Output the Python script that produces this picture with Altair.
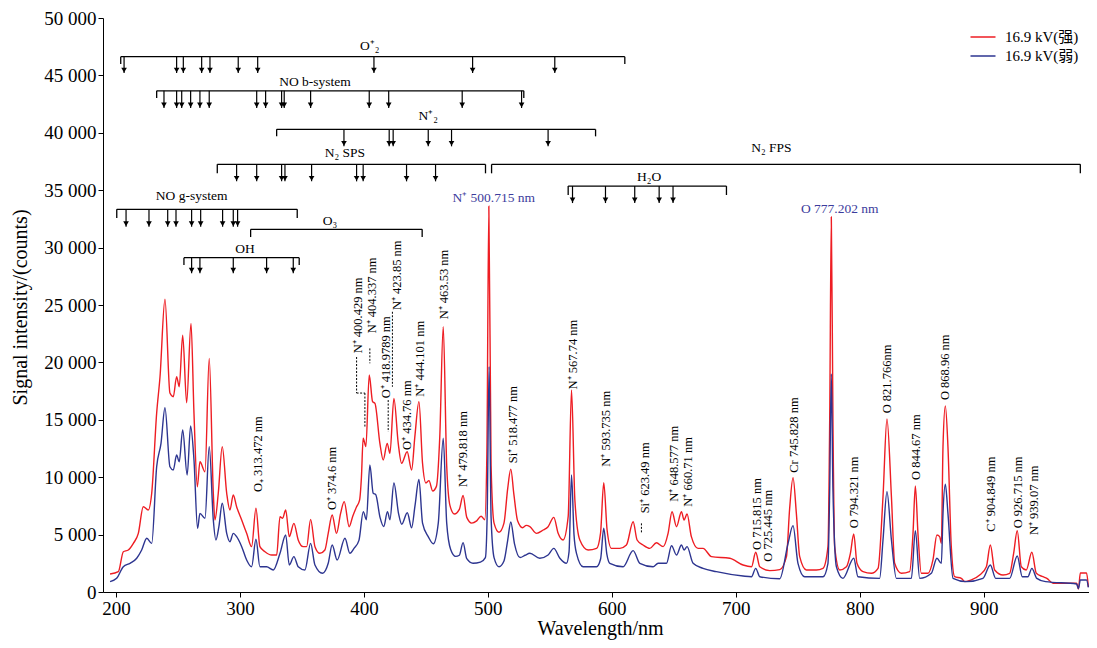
import altair as alt
import pandas as pd

FONT = "Liberation Serif, Noto Sans CJK SC"

# ---------------- spectrum data ----------------
red_nm = [195.2, 201.9, 205.9, 209.9, 214, 218, 222, 226, 228.8, 232.8, 235.5, 239.5, 243.5, 246.2,
          248.9, 251, 253.8, 257, 260.5, 262.9, 265.6, 267.7, 271.8, 275.2, 278.5, 279.8, 282.5, 285.7,
          289.3, 291.9, 294.6, 297.3, 301.4, 305.4, 309.4, 312.9, 316.1, 320.2, 325.6, 329.6, 332.3,
          334.4, 336.9, 339.8, 343.5, 347, 351, 353.8, 357, 360.5, 364.5, 368.5, 371.2, 374.4, 377.9,
          381.2, 384.1, 388.1, 391, 394, 396.5, 398, 399.4, 401.6, 404.3, 407, 408.9, 412.9, 415.6,
          418.8, 421, 424.2, 427.7, 430.4, 434.9, 438.5, 441.1, 444.4, 447.3, 450, 452.5, 455.5, 458.5,
          461.2, 464, 466.8, 469.5, 473, 477, 480, 483, 487, 491, 494.5, 497.5, 499.2, 500.8, 502.6,
          505, 509, 513, 516, 518.5, 521, 524, 528, 531, 533.9, 539.3, 544.6, 548.6, 553.2, 556.7,
          560.7, 564.8, 567.5, 570.2, 574.2, 580.9, 587.7, 590.9, 593.5, 596.2, 599.7, 606.5, 611.8,
          617.2, 620.4, 625.2, 630.6, 636, 641.4, 645.4, 648.6, 652.2, 656.2, 658.3, 660.7, 664.2,
          669.6, 673.6, 680.4, 695.2, 705.9, 712.7, 716.1, 719.4, 727.4, 735.5, 740.9, 743.5, 746.2,
          748.9, 751.6, 757, 765, 770.4, 774.4, 775.8, 777.1, 778.4, 779.8, 783.9, 789.3, 792.5, 795.2,
          797.8, 802.7, 809.4, 814.8, 818.8, 822, 825.6, 828.2, 833.6, 840.3, 843, 844.9, 847, 849.7,
          855.1, 859.1, 862.3, 864.5, 865.9, 867.2, 869.1, 871.2, 873.9, 876.6, 882, 884.7, 890.1,
          896.8, 902.2, 905.4, 908.9, 915.6, 921, 924.2, 927.1, 930.4, 934.4, 938.9, 942.5, 947.8,
          951, 956, 975, 976.5, 978, 983, 984.5]
red_val = [1570, 1770, 3510, 3660, 4240, 5110, 7430, 7140, 8600, 15590, 18750, 25500, 17330, 17010,
           18750, 17880, 22380, 16490, 23400, 15560, 9170, 11350, 10480, 20350, 8600, 6270, 8600, 12660,
           8600, 7140, 8450, 7430, 6270, 5110, 3950, 7290, 3950, 3510, 3220, 3220, 6560,
           6420, 7140, 4820, 5980, 4530, 3950, 3950, 6330, 3950, 3370, 3660, 5110, 6710, 5110,
           6850, 7870, 5690, 6600, 7400, 8000, 10000, 13390, 12660, 18900, 16580, 16430, 12950, 11500,
           12950, 12080, 16870, 12950, 11210, 12220, 10630, 13530, 16580, 11210, 9500, 9700, 8800, 9200,
           13500, 23110, 11000, 7500, 6800, 7200, 8400, 6500, 6000, 6200, 6600, 6300, 12000, 33600, 11000,
           6000, 5200, 6000, 9000, 10700, 8500, 6200, 5600, 5800, 5690, 5110, 5400, 5690, 6500, 5110,
           4530, 6560, 17590, 8010, 4530, 3660, 3800, 5110, 9520, 5400, 3800, 3800, 4090,
           6120, 4530, 4090, 3800, 4290, 3950, 5110, 6990, 5690, 6990, 6270, 6790, 4820,
           3800, 3800, 3080, 2940, 2350, 2200, 3460, 2200, 1860, 1950, 3080, 7290, 9960,
           6850, 3080, 1920, 1920, 2060, 3950, 15000, 32660, 15000, 3950, 1920, 2200, 3370, 5050,
           2500, 1770, 1630, 2060, 8300, 15070, 8300, 2500, 1630, 1770, 5110, 9230, 5110, 1630,
           1630, 2790, 4970, 4820, 4240, 12660, 16200, 12660, 3950, 1330, 1190, 900, 1050,
           1480, 2200, 4090, 1920, 1480, 1630, 3370, 5340, 2200, 1920, 3460, 1630, 1330,
           1190, 760, 760, 260, 1650, 1650, 435]

blue_nm = [195.2, 200.5, 205.9, 211.3, 216.7, 220.7, 224.8, 228.8, 232.8, 236.3, 239.5, 243.5, 246.2,
           248.9, 251, 253.8, 257.4, 260.2, 262.9, 265.8, 267.7, 271.8, 275.2, 278.5, 280.6, 283, 285.7,
           289.3, 291.9, 294.6, 297.3, 301.4, 305.4, 309.4, 312.9, 316.1, 321.5, 326.9, 332.3, 336.9,
           339.8, 343.5, 347, 352.4, 357, 360.5, 366.6, 371.2, 374.4, 378.4, 384.7, 388.7, 392, 396,
           399.5, 402, 404.8, 407.5, 409.5, 413, 416, 419, 421, 424.2, 428, 430.5, 435, 438.5, 441.2,
           444.4, 447.3, 452, 456, 460, 464, 466.8, 470, 474, 477, 480, 483, 488, 494, 498, 499.5, 501,
           502.6, 505, 509, 513, 516, 518.5, 521.5, 526, 530, 533.9, 541.9, 548.6, 553.2, 558.1, 563.4,
           565.5, 567.5, 569.5, 571.5, 576.9, 587.7, 591, 593.5, 596, 598.4, 609.1, 617.2, 622.6, 633.3,
           637.4, 644.1, 648.2, 652.2, 656.2, 658.3, 660.7, 665.6, 673.6, 684.4, 705.9, 712.7, 716.1,
           719.4, 735.5, 742.2, 746.2, 750.2, 755.6, 770.4, 774.4, 775.8, 777.1, 778.4, 781.2, 786.5,
           795.2, 798.6, 816.1, 818.8, 822, 825.6, 829.6, 841.7, 844.9, 848.4, 857.8, 862.3, 865.9,
           867.2, 869.1, 871.2, 875.3, 886, 899.4, 905.4, 909.7, 921, 927.1, 931.2, 935.7, 938.9, 942.9,
           950, 975, 976.5, 978, 983, 984.5]
blue_val = [900, 1190, 2200, 2500, 2940, 3660, 4680, 4240, 10910, 12950, 16050, 10910, 10630,
            11930, 11350, 14110, 10190, 14460, 11500, 5550, 6850, 6420, 12660, 6270, 4530, 5690, 7730,
            5110, 4380, 5110, 4820, 3950, 2790, 2200, 4590, 2200, 2200, 1920, 3370, 4970,
            2350, 3080, 2200, 1920, 4240, 2350, 1630, 2500, 4090, 2790, 4680, 3370, 3800, 4500,
            7000, 6300, 11060, 8600, 8500, 6500, 5700, 7000, 6300, 9500, 6800, 5900, 6900, 5600, 7500,
            9800, 6000, 4800, 4200, 6000, 13390, 6000, 3700, 3100, 3200, 4300, 2900, 2500, 2600, 3000, 7000, 19620,
            6500, 3000, 2200, 2700, 4500, 6100, 4200, 3000, 3200, 3370, 2940, 3220, 3800, 2940, 2500,
            3500, 10190, 5000, 3370, 2200, 2200, 2900, 5550, 3300, 2500, 2200, 3600, 2500, 2200,
            2500, 2500, 4030, 3220, 4090, 3660, 3950, 2500, 2060, 1770, 1390, 1330, 2060,
            1330, 1150, 4240, 5780, 2500, 1330, 1330, 2500, 9000, 18990, 9000, 2200, 1190,
            2940, 1330, 1190, 4530, 8740, 4530, 1190, 1190, 5340, 1190, 1630, 2940, 2500,
            6850, 9380, 6850, 1190, 900, 1190, 2350, 1190, 1190, 3140, 1330, 1330, 2060, 1190,
            900, 700, 300, 1050, 1050, 400]

series_names = ["16.9 kV(强)", "16.9 kV(弱)"]
series_colors = ["#EE1D23", "#2D3590"]

x_ticks = [200, 300, 400, 500, 600, 700, 800, 900]
y_ticks = [0, 5000, 10000, 15000, 20000, 25000, 30000, 35000, 40000, 45000, 50000]
X_DOMAIN = [189.5, 985]
Y_DOMAIN = [0, 50000]

# ---------------- band-system brackets ----------------
br_label = ["O⁺₂", "NO b-system", "N⁺₂", "N₂ SPS", "N₂  FPS", "H₂O", "NO g-system", "O₃", "OH"]
br_start = [203.8, 232.8, 329.6, 281.7, 503.0, 564.8, 200.6, 308.6, 254.8]
br_end = [610.5, 529.0, 586.9, 498.1, 978.0, 692.5, 346.2, 447.0, 347.8]
br_line = [46630, 43660, 40300, 37250, 37250, 35360, 33330, 31590, 29120]
br_tick = [45990, 43030, 39690, 36470, 36470, 34580, 32580, 30920, 28480]
br_tip = [45200, 42160, 38820, 35770, 0, 33880, 31820, 0, 27760]
br_label_x = [404.6, 360.5, 451.9, 384.7, 728.8, 630.1, 261.0, 372.6, 304.0]
br_label_y = [47550, 44420, 41460, 38260, 38650, 36170, 34520, 32340, 29850]
br_arrows = [
    [206.5, 248.9, 254.3, 269.1, 275.8, 298.6, 314.3, 408.1, 487.7, 554.0],
    [238.7, 248.9, 253.0, 260.2, 267.7, 275.2, 313.5, 320.7, 333.6, 335.7, 357.0, 404.3, 420.0, 479.3, 527.2],
    [383.9, 420.4, 423.6, 451.9, 470.7, 548.6],
    [297.3, 313.5, 333.6, 336.3, 357.8, 394.1, 399.4, 434.4, 457.8],
    [],
    [568.3, 594.9, 618.5, 638.2, 649.4],
    [208.1, 226.6, 241.7, 248.4, 261.0, 268.3, 286.0, 294.6, 298.1],
    [],
    [261.0, 267.7, 294.6, 321.5, 343.0],
]

# ---------------- peak labels ----------------
rot_text = ["O₊ 313.472 nm", "O⁺ 374.6 nm", "N⁺ 400.429 nm", "N⁺ 404.337 nm", "O⁺ 418.9789 nm",
            "N⁺ 423.85 nm", "O⁺ 434.76 nm", "N⁺ 444.101 nm", "N⁺ 463.53 nm", "N⁺ 479.818 nm",
            "Si⁺ 518.477 nm", "N⁺ 567.74 nm", "N⁺ 593.735 nm", "Si⁺ 623.49 nm", "N⁺ 648.577 nm",
            "N⁺ 660.71 nm", "O 715.815 nm", "O 725.445 nm", "Cr 745.828 nm", "O 794.321 nm",
            "O 821.766nm", "O 844.67 nm", "O 868.96 nm", "C⁺ 904.849 nm", "O 926.715 nm", "N⁺ 939.07 nm"]
rot_nm = [314.5, 374.4, 395.4, 406.5, 417.7, 426.4, 434.9, 445.2, 464.5, 480.0, 520.4, 568.8, 595.2,
          626.6, 650.0, 661.5, 717.5, 726.0, 746.8, 795.2, 822.0, 845.2, 869.1, 906.2, 927.7, 940.3]
rot_val = [8700, 7140, 20790, 22530, 16870, 24560, 12370, 17010, 23750, 9150, 11210, 17650, 10910,
           6850, 7870, 7430, 3660, 2640, 10390, 5550, 15560, 9760, 16720, 5250, 5550, 4960]

hl_text = ["N⁺ 500.715 nm", "O 777.202 nm"]
hl_nm = [504.8, 783.9]
hl_val = [34320, 33360]

# dashed leader lines (x, y) -> (x2, y2)
ld_x = [394.1, 394.1, 400.8, 404.8, 419.6, 423.0, 623.9]
ld_y = [20470, 17330, 17330, 21220, 16720, 24410, 5980]
ld_x2 = [394.1, 400.8, 400.8, 404.8, 419.6, 423.0, 623.9]
ld_y2 = [17330, 17330, 14370, 19920, 13960, 17880, 5110]

# ---------------- tables ----------------
spec_df = pd.DataFrame({
    "nm": red_nm + blue_nm,
    "val": red_val + blue_val,
    "series": [series_names[0]] * len(red_nm) + [series_names[1]] * len(blue_nm),
})

br_df = pd.DataFrame({"nm": br_start, "x2": br_end, "val": br_line})
tick_rows = []
arrow_rows = []
for i in range(len(br_label)):
    tick_rows.append({"nm": br_start[i], "val": br_line[i], "y2": br_tick[i]})
    tick_rows.append({"nm": br_end[i], "val": br_line[i], "y2": br_tick[i]})
    for a in br_arrows[i]:
        arrow_rows.append({"nm": a, "val": br_line[i], "y2": br_tip[i]})
tick_df = pd.DataFrame(tick_rows)
arrow_df = pd.DataFrame(arrow_rows)
head_df = pd.DataFrame({"nm": arrow_df["nm"], "val": arrow_df["y2"]})
brlab_df = pd.DataFrame({"nm": br_label_x, "val": br_label_y, "t": br_label})
rot_df = pd.DataFrame({"nm": rot_nm, "val": rot_val, "t": rot_text})
hl_df = pd.DataFrame({"nm": hl_nm, "val": hl_val, "t": hl_text})
ld_df = pd.DataFrame({"nm": ld_x, "val": ld_y, "x2": ld_x2, "y2": ld_y2})

xs = alt.Scale(domain=X_DOMAIN, nice=False, zero=False)
ys = alt.Scale(domain=Y_DOMAIN, nice=False, zero=False)

AX = alt.Axis(values=x_ticks, title="Wavelength/nm", titleX=497, titleY=42,
              titleBaseline="alphabetic", labelPadding=2)
AY = alt.Axis(values=y_ticks, title="Signal intensity/(counts)",
              labelExpr="replace(format(datum.value, ','), ',', ' ')",
              titleX=-83, titleY=289, titleAngle=270, titleAlign="center",
              titleBaseline="middle")


def X():
    return alt.X("nm:Q", scale=xs, axis=AX)


def Y():
    return alt.Y("val:Q", scale=ys, axis=AY)


lines = alt.Chart(spec_df).mark_line(strokeWidth=1.4, interpolate="monotone", clip=True).encode(
    x=X(), y=Y(),
    color=alt.Color("series:N", scale=alt.Scale(domain=series_names, range=series_colors),
                    legend=alt.Legend(title=None, orient="none", legendX=869, legendY=8,
                                      symbolType="M-1.25,0H1.25", symbolSize=400,
                                      symbolStrokeWidth=1.5, labelFont=FONT, labelFontSize=15,
                                      labelOffset=11, rowPadding=0, padding=0)),
)

br_lines = alt.Chart(br_df).mark_rule(color="black", strokeWidth=1.3).encode(
    x=X(), x2="x2", y=Y())
br_ticks = alt.Chart(tick_df).mark_rule(color="black", strokeWidth=1.3).encode(
    x=X(), y=Y(), y2="y2")
arrows = alt.Chart(arrow_df).mark_rule(color="black", strokeWidth=1.2).encode(
    x=X(), y=Y(), y2="y2")
heads = alt.Chart(head_df).mark_point(shape="triangle-down", filled=True, size=32, color="black",
                                      opacity=1, yOffset=-3).encode(x=X(), y=Y())
br_text = alt.Chart(brlab_df).mark_text(font=FONT, fontSize=13.5, color="black",
                                        baseline="middle", align="center").encode(
    x=X(), y=Y(), text="t:N")
rot = alt.Chart(rot_df).mark_text(font=FONT, fontSize=12.5, color="black", angle=270,
                                  align="left", baseline="middle").encode(
    x=X(), y=Y(), text="t:N")
hl = alt.Chart(hl_df).mark_text(font=FONT, fontSize=13.5, color="#3C3C9C", align="center",
                                baseline="middle").encode(x=X(), y=Y(), text="t:N")
leaders = alt.Chart(ld_df).mark_rule(color="black", strokeWidth=1, strokeDash=[2, 1.5]).encode(
    x=X(), y=Y(), x2="x2", y2="y2")

chart = alt.layer(lines, br_lines, br_ticks, arrows, heads, br_text, rot, hl, leaders).properties(
    width=986, height=574,
    autosize=alt.AutoSizeParams(type="none"),
    padding={"left": 95, "top": 10, "right": 0, "bottom": 48},
).configure_view(strokeWidth=0).configure_axis(
    grid=False, domainColor="black", tickColor="black", labelColor="black", titleColor="black",
    labelFont=FONT, titleFont=FONT, labelFontSize=19, titleFontSize=20, titleFontWeight="normal",
    tickSize=5, domainWidth=1, tickWidth=1,
)

chart.save("out.html", embed_options={"renderer": "svg", "actions": False})
